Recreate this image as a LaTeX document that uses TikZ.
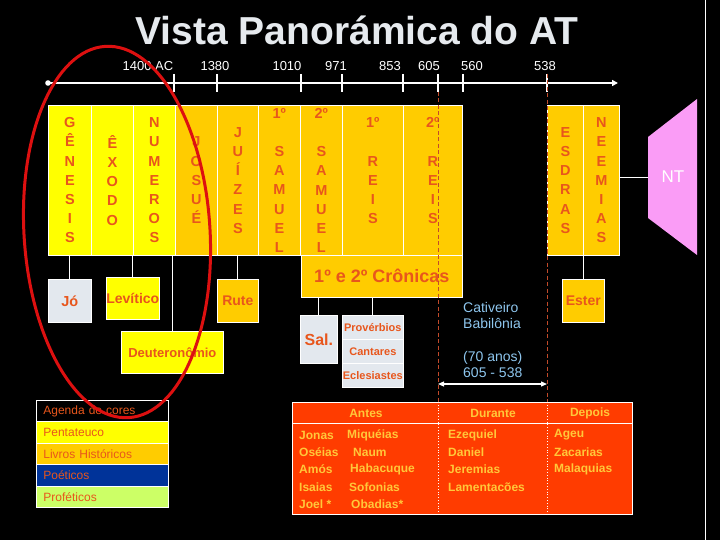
\documentclass[tikz,border=0pt]{standalone}
\usepackage{fontspec}
\setmainfont{Liberation Sans}
\usetikzlibrary{arrows.meta}
\definecolor{yel}{HTML}{FFFF00}
\definecolor{gold}{HTML}{FFCC00}
\definecolor{lgray}{HTML}{E3E8EE}
\definecolor{rtxt}{HTML}{E8561C}
\definecolor{pinknt}{HTML}{FA9CF6}
\definecolor{cblue}{HTML}{8EC6EE}
\definecolor{tabred}{HTML}{FF3C00}
\definecolor{tabtxt}{HTML}{FFC83A}
\definecolor{legblue}{HTML}{003399}
\definecolor{leggreen}{HTML}{CCFF66}
\definecolor{ellred}{HTML}{DD1010}
\definecolor{dashred}{HTML}{C24A2A}
\definecolor{titlec}{HTML}{E6EAEE}
\begin{document}
\begin{tikzpicture}[x=1pt,y=-1pt,
  box/.style={draw=white, line width=0.7pt, inner sep=0pt, anchor=north west, text=rtxt,
    font=\bfseries\fontsize{14.5}{19.2}\selectfont, align=center},
  col/.style={box, minimum height=150},
  conn/.style={draw=white, line width=0.8pt},
  yr/.style={text=white, inner sep=0pt, font=\fontsize{13}{15}\selectfont},
  tick/.style={draw=white, line width=1.3pt},
  leg/.style={draw=white, line width=0.8pt, anchor=north west, minimum width=132, minimum height=21.4,
    text width=118, inner xsep=7pt, inner ysep=0pt, align=left, font=\fontsize{12}{14}\selectfont, text=rtxt},
  tt/.style={anchor=west, inner sep=0pt, text=tabtxt, font=\bfseries\fontsize{12}{14}\selectfont},
  th/.style={tt, anchor=center},
  rdash/.style={draw=dashred, line width=1pt, dash pattern=on 4pt off 2.5pt},
]
\useasboundingbox (0,0) rectangle (720,540);
\fill[black] (0,0) rectangle (720,540);
\draw[white, line width=1pt] (705,0) -- (705,540);

% title
\node[font=\bfseries\fontsize{39}{44}\selectfont, text=titlec] (title) at (357,30) {Vista Panorámica do AT};

% timeline
\coordinate (tl0) at (48,83);
\coordinate (tl1) at (618,83);
\draw[white, line width=1.8pt, -{Triangle[length=6pt,width=6pt]}] (tl0) -- (tl1);
\fill[white] (tl0) circle (2.8);
\node[yr] (y1400) at (148,66) {1400 AC};
\node[yr] (y1380) at (215,66) {1380};
\node[yr] (y1010) at (287,66) {1010};
\node[yr] (y971) at (336,66) {971};
\node[yr] (y853) at (390,66) {853};
\node[yr] (y605) at (429,66) {605};
\node[yr] (y560) at (472,66) {560};
\node[yr] (y538) at (545,66) {538};
\foreach \n/\x in {1400/174,1380/217,1010/301,971/342,853/403,605/438,560/463,538/547}{
  \coordinate (t\n) at (\x,74);
  \draw[tick] (t\n) -- ++(0,18);
}

% book columns
\node[col, fill=yel, minimum width=43] (gen) at (48,105) {G\\Ê\\N\\E\\S\\I\\S};
\node[col, fill=yel, minimum width=42] (exo) at (91,105) {Ê\\X\\O\\D\\O};
\node[col, fill=yel, minimum width=42] (num) at (133,105) {N\\U\\M\\E\\R\\O\\S};
\node[col, fill=gold, minimum width=42] (jos) at (175,105) {J\\O\\S\\U\\É};
\node[col, fill=gold, minimum width=41] (jui) at (217,105) {J\\U\\Í\\Z\\E\\S};
\node[col, fill=gold, minimum width=42] (sam1) at (258,105) {1º\\~\\S\\A\\M\\U\\E\\L};
\node[col, fill=gold, minimum width=42] (sam2) at (300,105) {2º\\~\\S\\A\\M\\U\\E\\L};
\node[col, fill=gold, minimum width=61] (rei1) at (342,105) {1º\\~\\R\\E\\I\\S\\~};
\node[col, fill=gold, minimum width=59] (rei2) at (403,105) {2º\\~\\R\\E\\I\\S\\~};
\node[col, fill=gold, minimum width=36] (esd) at (547,105) {E\\S\\D\\R\\A\\S};
\node[col, fill=gold, minimum width=36] (nee) at (583,105) {N\\E\\E\\M\\I\\A\\S};

% NT
\fill[pinknt] (648,137) -- (697,99) -- (697,255) -- (648,218) -- cycle;
\coordinate (ntw) at (648,177);
\node[text=white, font=\fontsize{17}{19}\selectfont] (nt) at (673,177) {NT};
\draw[conn] (nee.east |- ntw) -- (ntw);

% lower boxes
\node[box, fill=gold, minimum width=161, minimum height=42, font=\bfseries\fontsize{18}{20}\selectfont] (cron) at (301,255) {1º e 2º Crônicas};
\node[box, fill=lgray, minimum width=43, minimum height=43] (jo) at (48,279) {Jó};
\node[box, fill=yel, minimum width=52, minimum height=42, font=\bfseries\fontsize{14}{16}\selectfont] (lev) at (106,277) {Levítico};
\node[box, fill=gold, minimum width=41, minimum height=43, font=\bfseries\fontsize{14}{16}\selectfont] (rute) at (217,279) {Rute};
\node[box, fill=yel, minimum width=102, minimum height=42, font=\bfseries\fontsize{13}{15}\selectfont] (deu) at (121,331) {Deuteronômio};
\node[box, fill=lgray, minimum width=37, minimum height=48, font=\bfseries\fontsize{16}{18}\selectfont] (sal) at (300,315) {Sal.};
\node[box, fill=lgray, minimum width=61, minimum height=24, font=\bfseries\fontsize{11}{13}\selectfont] (prov) at (342,315) {Provérbios};
\node[box, fill=lgray, minimum width=61, minimum height=24, font=\bfseries\fontsize{11}{13}\selectfont] (cant) at (342,339) {Cantares};
\node[box, fill=lgray, minimum width=61, minimum height=24, font=\bfseries\fontsize{11}{13}\selectfont] (ecl) at (342,363) {Eclesiastes};
\node[box, fill=gold, minimum width=42, minimum height=43, font=\bfseries\fontsize{14}{16}\selectfont] (ester) at (562,279) {Ester};

% connectors
\draw[conn] (jo.north) -- (jo.north |- gen.south);
\draw[conn] (lev.north) -- (lev.north |- exo.south);
\draw[conn] (deu.north) -- (deu.north |- num.south);
\draw[conn] (rute.north) -- (rute.north |- jui.south);
\draw[conn] (sal.north) -- (sal.north |- cron.south);
\draw[conn] (prov.north) -- (prov.north |- cron.south);
\draw[conn] (ester.north) -- (ester.north |- nee.south);

% captivity
\node[anchor=north west, inner sep=0pt, align=left, text=cblue, font=\fontsize{14}{16.3}\selectfont] (cat) at (463,302) {Cativeiro\\Babilônia\\~\\(70 anos)\\605 - 538};
\coordinate (a605) at (438,384);
\coordinate (a538) at (547,384);
\draw[white, line width=1.2pt, {Triangle[length=6pt,width=5pt]}-{Triangle[length=6pt,width=5pt]}] (a605) -- (a538);

% legend
\node[leg, fill=black] (lg0) at (36,400) {Agenda de cores};
\node[leg, fill=yel] (lg1) at (36,421.4) {Pentateuco};
\node[leg, fill=gold] (lg2) at (36,442.8) {Livros Históricos};
\node[leg, fill=legblue] (lg3) at (36,464.2) {Poéticos};
\node[leg, fill=leggreen] (lg4) at (36,485.6) {Proféticos};

% prophets table
\node[draw=white, line width=1.2pt, fill=tabred, anchor=north west, minimum width=340, minimum height=112, inner sep=0pt] (tab) at (292,402) {};
\coordinate (hdr) at (0,423);
\draw[white, line width=1pt] (tab.west |- hdr) -- (tab.east |- hdr);
\draw[white, line width=0.8pt, dotted] (t605 |- tab.north) -- (t605 |- tab.south);
\draw[white, line width=0.8pt, dotted] (t538 |- tab.north) -- (t538 |- tab.south);
\node[th] (hA) at (366,413) {Antes};
\node[th] (hD) at (493,413) {Durante};
\node[th] (hP) at (590,413) {Depois};
\node[tt] (p1) at (299,435) {Jonas};
\node[tt] (p2) at (299,452) {Oséias};
\node[tt] (p3) at (299,469) {Amós};
\node[tt] (p4) at (299,487) {Isaias};
\node[tt] (p5) at (299,504) {Joel *};
\node[tt] (p6) at (347,435) {Miquéias};
\node[tt] (p7) at (353,452) {Naum};
\node[tt] (p8) at (350,469) {Habacuque};
\node[tt] (p9) at (349,487) {Sofonias};
\node[tt] (p10) at (351,504) {Obadias*};
\node[tt] (d1) at (448,435) {Ezequiel};
\node[tt] (d2) at (448,452) {Daniel};
\node[tt] (d3) at (448,469) {Jeremias};
\node[tt] (d4) at (448,487) {Lamentacões};
\node[tt] (q1) at (554,435) {Ageu};
\node[tt] (q2) at (554,452) {Zacarias};
\node[tt] (q3) at (554,469) {Malaquias};

% red dashed period lines
\draw[rdash] (t605) ++(0,18) -- (t605 |- tab.north);
\draw[rdash] (t538) ++(0,0) -- (t538 |- tab.north);

% red ellipse
\draw[ellred, line width=3pt, rotate around={3.6:(117,232)}] (117,232) ellipse [x radius=93, y radius=186];
\end{tikzpicture}
\end{document}
